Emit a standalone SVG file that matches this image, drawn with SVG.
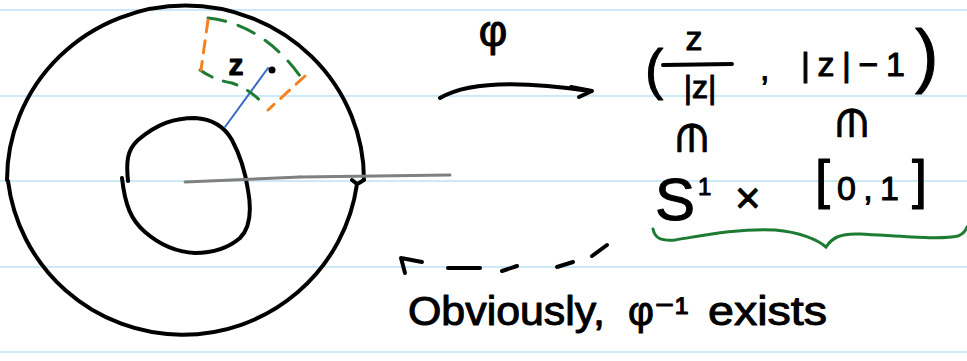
<svg xmlns="http://www.w3.org/2000/svg" width="967" height="361" viewBox="0 0 967 361">
<style>
.rule{stroke:#cde9f8;stroke-width:2}
.pen{fill:none;stroke:#000;stroke-width:4;stroke-linecap:round;stroke-linejoin:round}
.hw{font-family:"Liberation Sans","DejaVu Sans",sans-serif;fill:#000;stroke:#000;stroke-width:1;stroke-linejoin:round}
.green{fill:none;stroke:#1e7b34;stroke-width:3;stroke-linecap:round}
.orange{fill:none;stroke:#f5821f;stroke-width:3;stroke-linecap:round}
</style>
<rect width="967" height="361" fill="#fff"/>
<g id="ruled-lines">
<line class="rule" x1="0" y1="10" x2="967" y2="10"/>
<line class="rule" x1="0" y1="96" x2="967" y2="96"/>
<line class="rule" x1="0" y1="181" x2="967" y2="181"/>
<line class="rule" x1="0" y1="267" x2="967" y2="267"/>
<line class="rule" x1="0" y1="352" x2="967" y2="352"/>
</g>
<g id="annulus">
<path class="pen" d="M7,180 A178,174 0 0 1 364,180 L359,183"/>
<path class="pen" d="M352,180 L357,184 A176,175 0 0 1 8,181"/>
<path class="pen" d="M128,181 C126,162 127,150 138,140 C158,123 175,118 195,118 C212,119 224,126 232,140 C240,155 245,170 248,190 C252,212 250,228 240,238 C226,250 210,253 195,253 C175,252 160,245 145,232 C131,220 125,205 122,178"/>
<line x1="185" y1="182" x2="300" y2="177" stroke="#808080" stroke-width="3" stroke-linecap="round"/>
<line x1="300" y1="177" x2="450" y2="175" stroke="#808080" stroke-width="3" stroke-linecap="round"/>
<line x1="225" y1="127" x2="268" y2="68" stroke="#3a6bc4" stroke-width="2" stroke-linecap="round"/>
<circle cx="272" cy="70" r="3.5" fill="#000"/>
</g>
<g id="patch">
<path class="green" stroke-dasharray="18 13" d="M208,18 Q262,24 300,76"/>
<path class="green" stroke-dasharray="14 12" d="M200,70 Q214,80 232,83 Q252,90 266,107"/>
<path class="orange" stroke-dasharray="12 9" d="M208,20 L201,70"/>
<path class="orange" stroke-dasharray="12 9" d="M305,76 L268,110"/>
<text class="hw" x="236" y="75" font-size="30" font-weight="bold" text-anchor="middle">z</text>
</g>
<g id="connectors">
<path class="pen" d="M440,98 C470,80 530,82 590,91"/>
<path class="pen" d="M571,87 L592,91 L579,97"/>
<path class="pen" d="M422,262 L401,258 L405,273"/>
<path class="pen" d="M448,268 L480,268"/>
<path class="pen" d="M502,271 L517,266"/>
<path class="pen" d="M557,267 L573,262"/>
<path class="pen" d="M592,256 L607,245"/>
<path class="green" d="M653,229 C655,238 660,241 675,240 C700,236 740,228 775,230 C800,232 818,240 826,247 C832,238 840,233 860,234 C900,236 940,240 958,236 C963,234 966,230 967,227"/>
</g>
<g id="phi-label">
<text class="hw" x="493" y="46" font-size="44" text-anchor="middle">φ</text>
</g>
<g id="formula">
<text class="hw" x="645" y="88" font-size="55">(</text>
<text class="hw" x="694" y="50" font-size="34" text-anchor="middle">z</text>
<line class="pen" x1="663" y1="65" x2="732" y2="64"/>
<text class="hw" x="700" y="98" font-size="32" text-anchor="middle">|z|</text>
<text class="hw" x="760" y="80" font-size="34">,</text>
<text class="hw" x="801" y="76" font-size="34" textLength="104" lengthAdjust="spacing">|z|−1</text>
<text class="hw" x="915" y="79" font-size="70">)</text>
</g>
<g id="element-marks">
<text class="hw" font-size="40" text-anchor="middle" dominant-baseline="central" transform="translate(692,138) rotate(90)">∈</text>
<text class="hw" font-size="40" text-anchor="middle" dominant-baseline="central" transform="translate(852,123) rotate(90)">∈</text>
</g>
<g id="product">
<text class="hw" x="655" y="220" font-size="60">S</text>
<text class="hw" x="698" y="195" font-size="24">1</text>
<text class="hw" x="735" y="213" font-size="44">×</text>
<text class="hw" x="815" y="198" font-size="54">[</text>
<text class="hw" x="837" y="200" font-size="34" textLength="62" lengthAdjust="spacing">0,1</text>
<text class="hw" x="912" y="198" font-size="54">]</text>
</g>
<g id="note">
<text class="hw" x="408" y="325" font-size="40" textLength="197" lengthAdjust="spacingAndGlyphs">Obviously,</text>
<text class="hw" x="628" y="325" font-size="40">φ⁻¹</text>
<text class="hw" x="708" y="325" font-size="40" textLength="119" lengthAdjust="spacingAndGlyphs">exists</text>
</g>
</svg>
